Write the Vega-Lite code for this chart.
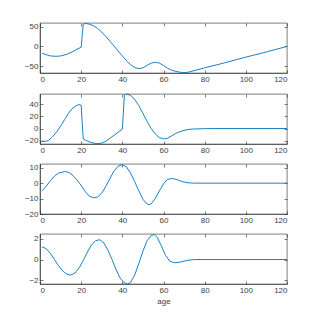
{
  "$schema": "https://vega.github.io/schema/vega-lite/v6.json",
  "background": "white",
  "padding": {"left": 24, "top": 21, "right": 5, "bottom": 5},
  "spacing": 7,
  "datasets": {
    "p1": [
      {"age": 1, "v": -17}, {"age": 3, "v": -21}, {"age": 5, "v": -24}, {"age": 8, "v": -25}, {"age": 10, "v": -24},
      {"age": 13, "v": -20}, {"age": 16, "v": -13}, {"age": 18, "v": -7}, {"age": 20, "v": -2}, {"age": 21, "v": 56},
      {"age": 22, "v": 58}, {"age": 24, "v": 56}, {"age": 26, "v": 52}, {"age": 28, "v": 45}, {"age": 30, "v": 36},
      {"age": 32, "v": 25}, {"age": 34, "v": 13}, {"age": 36, "v": 1}, {"age": 38, "v": -12}, {"age": 40, "v": -24},
      {"age": 42, "v": -36}, {"age": 44, "v": -46}, {"age": 46, "v": -53}, {"age": 48, "v": -56}, {"age": 50, "v": -54},
      {"age": 52, "v": -48}, {"age": 54, "v": -42}, {"age": 56, "v": -40}, {"age": 58, "v": -42}, {"age": 60, "v": -48},
      {"age": 62, "v": -55}, {"age": 64, "v": -60}, {"age": 66, "v": -63}, {"age": 68, "v": -65}, {"age": 70, "v": -66},
      {"age": 72, "v": -65}, {"age": 80, "v": -54}, {"age": 90, "v": -41}, {"age": 100, "v": -27}, {"age": 110, "v": -14},
      {"age": 120, "v": 0}
    ],
    "p2": [
      {"age": 1, "v": -20}, {"age": 2, "v": -21.5}, {"age": 4, "v": -20}, {"age": 6, "v": -14}, {"age": 8, "v": -6},
      {"age": 10, "v": 4}, {"age": 12, "v": 15}, {"age": 14, "v": 26}, {"age": 16, "v": 34}, {"age": 18, "v": 38.5},
      {"age": 19, "v": 39.5}, {"age": 20, "v": 38.5}, {"age": 21, "v": -17}, {"age": 22, "v": -19}, {"age": 24, "v": -22},
      {"age": 26, "v": -24}, {"age": 28, "v": -25}, {"age": 30, "v": -24}, {"age": 32, "v": -21}, {"age": 34, "v": -16},
      {"age": 36, "v": -11}, {"age": 38, "v": -6}, {"age": 40, "v": -1}, {"age": 41, "v": 55}, {"age": 42, "v": 57},
      {"age": 44, "v": 55}, {"age": 46, "v": 48}, {"age": 48, "v": 38}, {"age": 50, "v": 25}, {"age": 52, "v": 12},
      {"age": 54, "v": 0}, {"age": 56, "v": -9}, {"age": 58, "v": -15}, {"age": 60, "v": -17}, {"age": 62, "v": -16},
      {"age": 64, "v": -12}, {"age": 66, "v": -8}, {"age": 68, "v": -5}, {"age": 70, "v": -3}, {"age": 72, "v": -1.5},
      {"age": 75, "v": -0.7}, {"age": 80, "v": -0.2}, {"age": 85, "v": 0}, {"age": 120, "v": 0}
    ],
    "p3": [
      {"age": 1, "v": -5}, {"age": 3, "v": -2}, {"age": 5, "v": 1.5}, {"age": 7, "v": 4.5}, {"age": 9, "v": 6.5},
      {"age": 12, "v": 7.5}, {"age": 14, "v": 7}, {"age": 16, "v": 5}, {"age": 18, "v": 2}, {"age": 20, "v": -1.5},
      {"age": 22, "v": -5.5}, {"age": 24, "v": -8.5}, {"age": 26, "v": -9.5}, {"age": 28, "v": -9}, {"age": 30, "v": -6.5},
      {"age": 32, "v": -2}, {"age": 34, "v": 3}, {"age": 36, "v": 8}, {"age": 38, "v": 11}, {"age": 40, "v": 12},
      {"age": 42, "v": 10.5}, {"age": 44, "v": 6.5}, {"age": 46, "v": 1}, {"age": 48, "v": -5}, {"age": 50, "v": -10.5},
      {"age": 52, "v": -13.5}, {"age": 53, "v": -14}, {"age": 54, "v": -13.5}, {"age": 56, "v": -10}, {"age": 58, "v": -5},
      {"age": 60, "v": -0.5}, {"age": 62, "v": 2.5}, {"age": 64, "v": 3}, {"age": 66, "v": 2.5}, {"age": 68, "v": 1.5},
      {"age": 70, "v": 0.7}, {"age": 72, "v": 0.2}, {"age": 75, "v": 0}, {"age": 120, "v": 0}
    ],
    "p4": [
      {"age": 1, "v": 1.2}, {"age": 3, "v": 1.05}, {"age": 5, "v": 0.6}, {"age": 7, "v": 0}, {"age": 9, "v": -0.6},
      {"age": 11, "v": -1.1}, {"age": 13, "v": -1.4}, {"age": 15, "v": -1.5}, {"age": 17, "v": -1.3}, {"age": 19, "v": -0.8},
      {"age": 21, "v": -0.1}, {"age": 23, "v": 0.7}, {"age": 25, "v": 1.4}, {"age": 27, "v": 1.8}, {"age": 29, "v": 1.9},
      {"age": 31, "v": 1.6}, {"age": 33, "v": 0.9}, {"age": 35, "v": 0}, {"age": 37, "v": -1}, {"age": 39, "v": -1.8},
      {"age": 41, "v": -2.25}, {"age": 42.5, "v": -2.35}, {"age": 44, "v": -2.2}, {"age": 46, "v": -1.5}, {"age": 48, "v": -0.4},
      {"age": 50, "v": 0.8}, {"age": 52, "v": 1.8}, {"age": 54, "v": 2.3}, {"age": 55.5, "v": 2.4}, {"age": 57, "v": 2.1},
      {"age": 59, "v": 1.3}, {"age": 61, "v": 0.4}, {"age": 63, "v": -0.15}, {"age": 65, "v": -0.3}, {"age": 66, "v": -0.3},
      {"age": 68, "v": -0.25}, {"age": 70, "v": -0.15}, {"age": 72, "v": -0.07}, {"age": 75, "v": 0}, {"age": 120, "v": 0}
    ]
  },
  "vconcat": [
    {
      "width": 247, "height": 50,
      "data": {"name": "p1"},
      "layer": [
        {"mark": {"type": "line", "color": "#0072BD", "strokeWidth": 0.9},
         "encoding": {
           "x": {"field": "age", "type": "quantitative", "title": null, "scale": {"domain": [0, 120], "nice": false}, "axis": {"values": [0, 20, 40, 60, 80, 100, 120]}},
           "y": {"field": "v", "type": "quantitative", "title": null, "scale": {"domain": [-67, 59], "nice": false, "zero": false}, "axis": {"values": [-50, 0, 50]}}
         }},
        {"mark": {"type": "line", "opacity": 0},
         "encoding": {
           "x": {"field": "age", "type": "quantitative", "axis": {"orient": "top", "labels": false, "title": null, "domain": false, "values": [0, 20, 40, 60, 80, 100, 120]}},
           "y": {"field": "v", "type": "quantitative", "axis": {"orient": "right", "labels": false, "title": null, "domain": false, "values": [-50, 0, 50]}}
         }}
      ],
      "resolve": {"axis": {"x": "independent", "y": "independent"}}
    },
    {
      "width": 247, "height": 50,
      "data": {"name": "p2"},
      "layer": [
        {"mark": {"type": "line", "color": "#0072BD", "strokeWidth": 0.9},
         "encoding": {
           "x": {"field": "age", "type": "quantitative", "title": null, "scale": {"domain": [0, 120], "nice": false}, "axis": {"values": [0, 20, 40, 60, 80, 100, 120]}},
           "y": {"field": "v", "type": "quantitative", "title": null, "scale": {"domain": [-25.5, 57], "nice": false, "zero": false}, "axis": {"values": [-20, 0, 20, 40]}}
         }},
        {"mark": {"type": "line", "opacity": 0},
         "encoding": {
           "x": {"field": "age", "type": "quantitative", "axis": {"orient": "top", "labels": false, "title": null, "domain": false, "values": [0, 20, 40, 60, 80, 100, 120]}},
           "y": {"field": "v", "type": "quantitative", "axis": {"orient": "right", "labels": false, "title": null, "domain": false, "values": [-20, 0, 20, 40]}}
         }}
      ],
      "resolve": {"axis": {"x": "independent", "y": "independent"}}
    },
    {
      "width": 247, "height": 50,
      "data": {"name": "p3"},
      "layer": [
        {"mark": {"type": "line", "color": "#0072BD", "strokeWidth": 0.9},
         "encoding": {
           "x": {"field": "age", "type": "quantitative", "title": null, "scale": {"domain": [0, 120], "nice": false}, "axis": {"values": [0, 20, 40, 60, 80, 100, 120]}},
           "y": {"field": "v", "type": "quantitative", "title": null, "scale": {"domain": [-20, 12.4], "nice": false, "zero": false}, "axis": {"values": [-20, -10, 0, 10]}}
         }},
        {"mark": {"type": "line", "opacity": 0},
         "encoding": {
           "x": {"field": "age", "type": "quantitative", "axis": {"orient": "top", "labels": false, "title": null, "domain": false, "values": [0, 20, 40, 60, 80, 100, 120]}},
           "y": {"field": "v", "type": "quantitative", "axis": {"orient": "right", "labels": false, "title": null, "domain": false, "values": [-20, -10, 0, 10]}}
         }}
      ],
      "resolve": {"axis": {"x": "independent", "y": "independent"}}
    },
    {
      "width": 247, "height": 50,
      "data": {"name": "p4"},
      "layer": [
        {"mark": {"type": "line", "color": "#0072BD", "strokeWidth": 0.9},
         "encoding": {
           "x": {"field": "age", "type": "quantitative", "title": "age", "scale": {"domain": [0, 120], "nice": false}, "axis": {"values": [0, 20, 40, 60, 80, 100, 120]}},
           "y": {"field": "v", "type": "quantitative", "title": null, "scale": {"domain": [-2.35, 2.45], "nice": false, "zero": false}, "axis": {"values": [-2, 0, 2]}}
         }},
        {"mark": {"type": "line", "opacity": 0},
         "encoding": {
           "x": {"field": "age", "type": "quantitative", "axis": {"orient": "top", "labels": false, "title": null, "domain": false, "values": [0, 20, 40, 60, 80, 100, 120]}},
           "y": {"field": "v", "type": "quantitative", "axis": {"orient": "right", "labels": false, "title": null, "domain": false, "values": [-2, 0, 2]}}
         }}
      ],
      "resolve": {"axis": {"x": "independent", "y": "independent"}}
    }
  ],
  "config": {
    "view": {"stroke": "#262626", "strokeWidth": 0.6},
    "axis": {
      "grid": false,
      "domainColor": "#262626", "domainWidth": 0.6,
      "tickColor": "#262626", "tickWidth": 0.6, "tickSize": -3,
      "labelColor": "#404040", "labelFont": "Liberation Sans", "labelFontSize": 8, "labelPadding": 5,
      "titleColor": "#404040", "titleFont": "Liberation Sans", "titleFontSize": 8, "titleFontWeight": "normal", "titlePadding": 3
    }
  }
}
